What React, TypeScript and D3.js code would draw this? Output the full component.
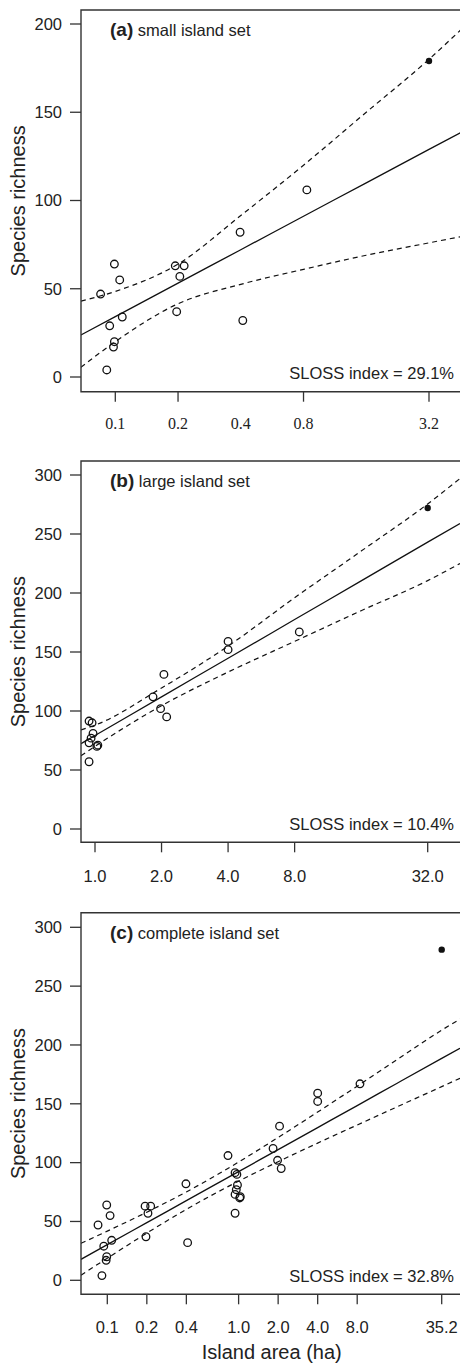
import React from 'react'
import * as d3 from 'd3'

// islands of the small set (area in ha, species count)
const smallArea = [0.085, 0.099, 0.105, 0.108, 0.094, 0.099, 0.098, 0.091, 0.194, 0.214, 0.204, 0.197, 0.397, 0.409, 0.83]
const smallRich = [47, 64, 55, 34, 29, 20, 17, 4, 63, 63, 57, 37, 82, 32, 106]

// islands of the large set
const largeArea = [0.94, 0.97, 0.98, 0.96, 0.94, 1.02, 1.03, 0.94, 1.83, 2.05, 1.98, 2.11, 4.0, 4.0, 8.4]
const largeRich = [91.5, 90, 81, 77, 73, 70, 71, 57, 112, 131, 102, 95, 159, 152, 167]

// pooled richness of each whole set (filled dot)
const setArea = [3.2, 32.0, 35.2]
const setRich = [179, 272, 281]

const panelTags = ['(a)', '(b)', '(c)']
const panelNames = ['small island set', 'large island set', 'complete island set']
const slossIndex = ['29.1%', '10.4%', '32.8%']

const xTicksA = [0.1, 0.2, 0.4, 0.8, 3.2]
const xLabelsA = ['0.1', '0.2', '0.4', '0.8', '3.2']
const xTicksB = [1, 2, 4, 8, 32]
const xLabelsB = ['1.0', '2.0', '4.0', '8.0', '32.0']
const xTicksC = [0.1, 0.2, 0.4, 1, 2, 4, 8, 35.2]
const xLabelsC = ['0.1', '0.2', '0.4', '1.0', '2.0', '4.0', '8.0', '35.2']
const yTicksA = [0, 50, 100, 150, 200]
const yTicksBC = [0, 50, 100, 150, 200, 250, 300]

// fitted line and confidence band
const bandAreaA = [0.0684, 0.1, 0.2, 0.4, 0.8, 1.6, 3.2, 4.53]
const fitA = [23.8, 34.2, 53.2, 72.1, 91.1, 110.0, 129.0, 138.4]
const upperA = [43, 48.5, 64, 91.5, 120, 150, 180, 196.5]
const lowerA = [5.5, 20, 41.5, 52.5, 61, 69, 76, 79.5]

const bandAreaB = [0.864, 1, 2, 4, 8, 16, 32, 44.8]
const fitB = [72.3, 79.2, 112.0, 144.7, 177.5, 210.3, 243.1, 258.9]
const upperB = [84, 88, 119.5, 155, 196, 235.5, 275.5, 297]
const lowerB = [62, 70, 104.5, 133, 159, 185, 210.5, 225]

const bandAreaC = [0.063, 0.1, 0.2, 0.4, 1, 2, 4, 8, 16, 35.2, 48.5]
const fitC = [17.8, 30.3, 49.0, 67.7, 92.4, 111.1, 129.8, 148.5, 167.3, 188.6, 197.2]
const upperC = [31.4, 41.8, 57.9, 75.1, 100.5, 121.4, 143, 165, 187.3, 212.6, 222]
const lowerC = [4.4, 18.8, 40.1, 60.3, 84.3, 100.8, 116.6, 132, 147.3, 164.6, 171.7]

const SANS = '"Liberation Sans", Arial, Helvetica, sans-serif'
const SERIF = '"Liberation Serif", "Times New Roman", serif'
const INK = '#222'
const LEFT = 81
const RIGHT = 470

function Panel({ idx, top, bottom, yRange, yMax, yTicks, xDomain, xRange, xTicks, xLabels, tickMarks, serifX, labelY, area, rich, bandArea, fit, upper, lower }) {
  const x = d3.scaleLog().domain(xDomain).range(xRange)
  const y = d3.scaleLinear().domain([0, yMax]).range(yRange)
  const line = d3.line().x(d => x(d[0])).y(d => y(d[1])).curve(d3.curveMonotoneX)
  const pts = arr => bandArea.map((a, i) => [a, arr[i]])
  const clipId = `clip-${idx}`
  const mid = (top + bottom) / 2

  return (
    <g>
      <defs>
        <clipPath id={clipId}>
          <rect x={LEFT} y={top} width={RIGHT - LEFT} height={bottom - top} />
        </clipPath>
      </defs>

      <g clipPath={`url(#${clipId})`}>
        <path d={line(pts(fit))} fill="none" stroke="#111" strokeWidth={1.3} />
        <path d={line(pts(upper))} fill="none" stroke="#111" strokeWidth={1.2} strokeDasharray="5,4" />
        <path d={line(pts(lower))} fill="none" stroke="#111" strokeWidth={1.2} strokeDasharray="5,4" />
        {area.map((a, i) => (
          <circle key={i} cx={x(a)} cy={y(rich[i])} r={3.8} fill="none" stroke="#111" strokeWidth={1.3} />
        ))}
        <circle cx={x(setArea[idx])} cy={y(setRich[idx])} r={3.2} fill="#111" />
      </g>

      {/* frame: left, top, bottom (right side runs off the picture) */}
      <path d={`M${RIGHT},${top}H${LEFT}V${bottom}H${RIGHT}`} fill="none" stroke="#333" strokeWidth={1.4} />

      {yTicks.map(t => (
        <g key={t}>
          <line x1={70} x2={LEFT} y1={y(t)} y2={y(t)} stroke="#333" strokeWidth={1.3} />
          <text x={62} y={y(t)} dy="0.35em" textAnchor="end" fontSize={16.5} fill={INK} fontFamily={SANS}>{t}</text>
        </g>
      ))}

      {xTicks.map((t, i) => (
        <g key={t}>
          {tickMarks.includes(t) && (
            <line x1={x(t)} x2={x(t)} y1={bottom} y2={bottom + 10} stroke="#333" strokeWidth={1.3} />
          )}
          <text x={x(t)} y={labelY} textAnchor="middle" fontSize={serifX ? 16 : 16.5} fill={INK}
            fontFamily={serifX ? SERIF : SANS}>{xLabels[i]}</text>
        </g>
      ))}

      <text x={110} y={top + 26} fontFamily={SANS} fill={INK}>
        <tspan fontWeight="bold" fontSize={19}>{panelTags[idx]}</tspan>
        <tspan fontSize={16.5}>{' ' + panelNames[idx]}</tspan>
      </text>

      <text x={454} y={bottom - 12.5} textAnchor="end" fontSize={16.5} fill={INK} fontFamily={SANS}>
        {`SLOSS index = ${slossIndex[idx]}`}
      </text>

      <text transform={`translate(25,${mid}) rotate(-90)`} textAnchor="middle" fontSize={20} fill={INK} fontFamily={SANS}>
        Species richness
      </text>
    </g>
  )
}

export default function App() {
  return (
    <div style={{ position: 'absolute', left: 0, top: 0 }}>
      <svg width={460} height={1365} style={{ display: 'block', background: '#fff' }}>
        <Panel idx={0} top={10} bottom={391.7} yRange={[377, 24]} yMax={200} yTicks={yTicksA}
          xDomain={[0.1, 3.2]} xRange={[115.3, 429]} xTicks={xTicksA} xLabels={xLabelsA}
          tickMarks={[0.1, 0.2, 0.8, 3.2]} serifX labelY={429}
          area={smallArea} rich={smallRich} bandArea={bandAreaA} fit={fitA} upper={upperA} lower={lowerA} />
        <Panel idx={1} top={461} bottom={842.3} yRange={[829, 475]} yMax={300} yTicks={yTicksBC}
          xDomain={[1, 32]} xRange={[95, 427.7]} xTicks={xTicksB} xLabels={xLabelsB}
          tickMarks={xTicksB} serifX={false} labelY={881.5}
          area={largeArea} rich={largeRich} bandArea={bandAreaB} fit={fitB} upper={upperB} lower={lowerB} />
        <Panel idx={2} top={912.7} bottom={1294.3} yRange={[1280.3, 927.3]} yMax={300} yTicks={yTicksBC}
          xDomain={[0.1, 35.2]} xRange={[107.3, 441.7]} xTicks={xTicksC} xLabels={xLabelsC}
          tickMarks={xTicksC} serifX={false} labelY={1333}
          area={smallArea.concat(largeArea)} rich={smallRich.concat(largeRich)}
          bandArea={bandAreaC} fit={fitC} upper={upperC} lower={lowerC} />
        <text x={271.7} y={1359} textAnchor="middle" fontSize={20} fill={INK} fontFamily={SANS}>Island area (ha)</text>
      </svg>
    </div>
  )
}
